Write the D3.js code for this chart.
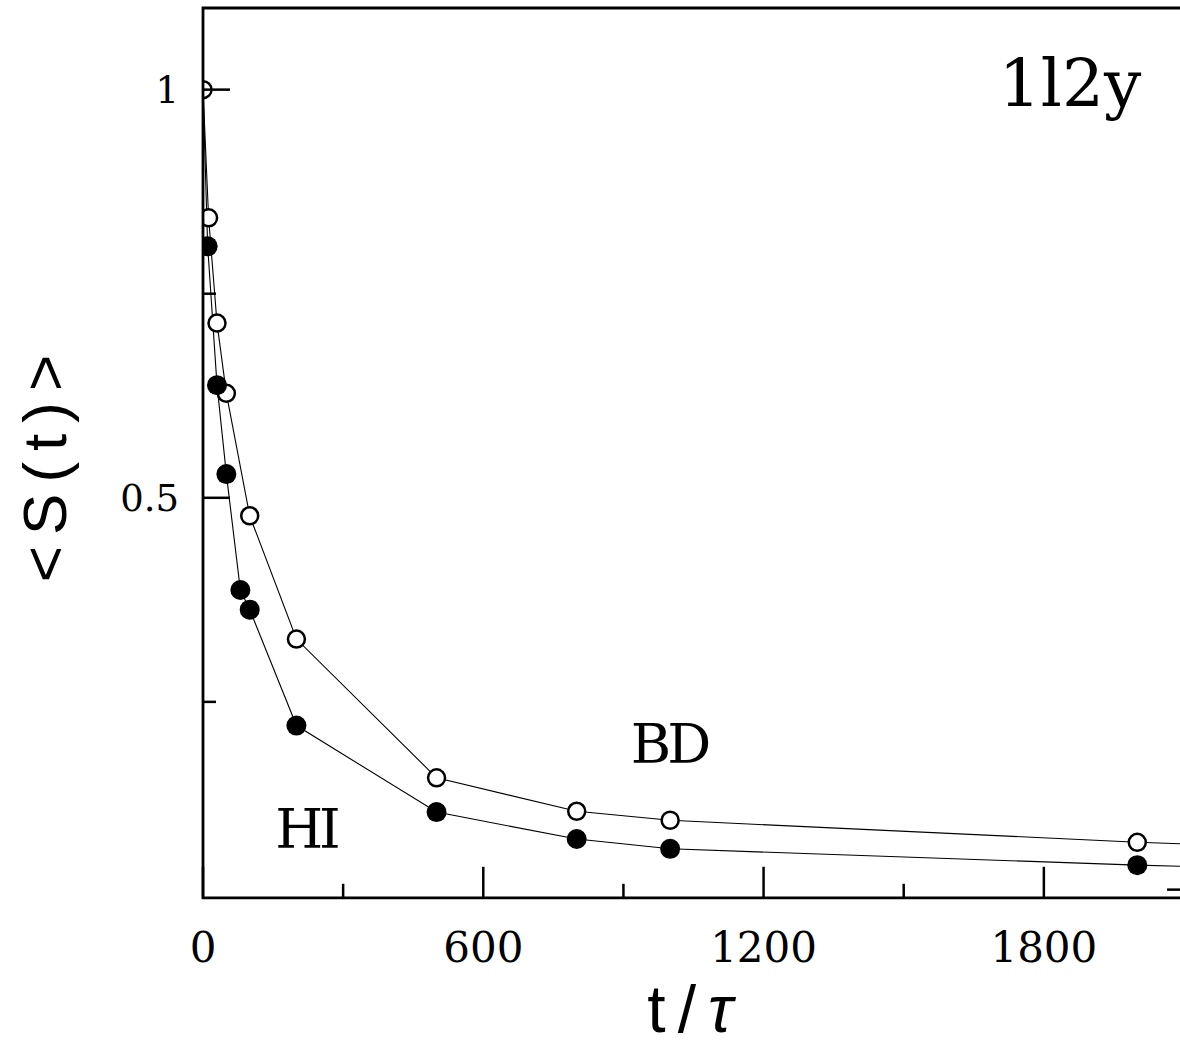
<!DOCTYPE html>
<meta charset="utf-8">
<style>

body {
  margin: 0;
  background: #fff;
}

svg {
  display: block;
  overflow: hidden;
}

.axis-line {
  fill: none;
  stroke: #000;
  stroke-width: 2.8;
}

.tick-mark {
  stroke: #000;
  stroke-width: 2.5;
}

.series {
  fill: none;
  stroke: #000;
  stroke-width: 1.1;
}

.ticklabel {
  font-family: "DejaVu Serif", serif;
  fill: #000;
}

</style>
<body>
<script src="https://d3js.org/d3.v7.min.js"></script>
<script>

// open circles (BD) and filled circles (HI); last points sit past the right edge
var tBD = [0, 12, 30, 50, 100, 200, 500, 800, 1000, 2000, 3000];
var sBD = [1, 0.843, 0.714, 0.628, 0.478, 0.327, 0.157, 0.116, 0.105, 0.078, 0.058];

var tHI = [0, 10, 30, 50, 80, 100, 200, 500, 800, 1000, 2000, 3000];
var sHI = [1, 0.808, 0.638, 0.529, 0.387, 0.363, 0.221, 0.115, 0.082, 0.070, 0.050, 0.035];

var xMajor = [0, 600, 1200, 1800];
var xMinor = [300, 900, 1500];
var yMajor = [1, 0.5];
var yMinor = [0.75, 0.25];
var yRightMinor = [0.02];
var yLabels = ["1", "0.5"];

var width = 1180,
    height = 1053;

var x = d3.scaleLinear().domain([0, 2100]).range([203, 1184]);
var y = d3.scaleLinear().domain([0.01, 1.1]).range([897.8, 8]);

var svg = d3.select("body").append("svg")
    .attr("width", width)
    .attr("height", height);

svg.append("clipPath")
    .attr("id", "plot")
  .append("rect")
    .attr("x", x(0))
    .attr("y", y(1.1))
    .attr("width", x(2100) - x(0))
    .attr("height", y(0.01) - y(1.1));

var bd = tBD.map(function(t, i) { return {t: t, s: sBD[i]}; });
var hi = tHI.map(function(t, i) { return {t: t, s: sHI[i]}; });

var line = d3.line()
    .x(function(d) { return x(d.t); })
    .y(function(d) { return y(d.s); });

var plot = svg.append("g").attr("clip-path", "url(#plot)");

plot.append("path").datum(bd).attr("class", "series").attr("d", line);
plot.append("path").datum(hi).attr("class", "series").attr("d", line);

plot.selectAll(".bd")
    .data(bd)
  .enter().append("circle")
    .attr("class", "bd")
    .attr("cx", function(d) { return x(d.t); })
    .attr("cy", function(d) { return y(d.s); })
    .attr("r", 8.5)
    .style("fill", "#fff")
    .style("stroke", "#000")
    .style("stroke-width", 2.5);

plot.selectAll(".hi")
    .data(hi.filter(function(d) { return d.t > 0; }))
  .enter().append("circle")
    .attr("class", "hi")
    .attr("cx", function(d) { return x(d.t); })
    .attr("cy", function(d) { return y(d.s); })
    .attr("r", 10)
    .style("fill", "#000");

// frame
svg.append("path")
    .attr("class", "axis-line")
    .attr("d", "M" + x(0) + "," + y(0.01) + "V" + y(1.1) + "H" + x(2100) + "V" + y(0.01) + "Z");

// bottom ticks
svg.selectAll(".xmaj")
    .data(xMajor)
  .enter().append("line")
    .attr("class", "tick-mark")
    .attr("x1", x).attr("x2", x)
    .attr("y1", y(0.01)).attr("y2", y(0.01) - 31);

svg.selectAll(".xmin")
    .data(xMinor)
  .enter().append("line")
    .attr("class", "tick-mark")
    .attr("x1", x).attr("x2", x)
    .attr("y1", y(0.01)).attr("y2", y(0.01) - 14);

svg.selectAll(".xlab")
    .data(xMajor)
  .enter().append("text")
    .attr("class", "ticklabel")
    .attr("x", x)
    .attr("y", 962)
    .attr("text-anchor", "middle")
    .style("font-size", "42px")
    .text(function(d) { return d; });

// left ticks
svg.selectAll(".ymaj")
    .data(yMajor)
  .enter().append("line")
    .attr("class", "tick-mark")
    .attr("x1", x(0)).attr("x2", x(0) + 27)
    .attr("y1", y).attr("y2", y);

svg.selectAll(".ymin")
    .data(yMinor)
  .enter().append("line")
    .attr("class", "tick-mark")
    .attr("x1", x(0)).attr("x2", x(0) + 13)
    .attr("y1", y).attr("y2", y);

svg.selectAll(".yrmin")
    .data(yRightMinor)
  .enter().append("line")
    .attr("class", "tick-mark")
    .attr("x1", x(2100)).attr("x2", x(2100) - 17)
    .attr("y1", y).attr("y2", y);

svg.selectAll(".ylab")
    .data(yMajor)
  .enter().append("text")
    .attr("class", "ticklabel")
    .attr("x", 179)
    .attr("y", function(d) { return y(d) + 13; })
    .attr("text-anchor", "end")
    .style("font-size", "37px")
    .text(function(d, i) { return yLabels[i]; });

// axis titles
svg.append("text")
    .attr("transform", "translate(66,463) rotate(-90)")
    .attr("text-anchor", "middle")
    .style("font-family", "'Liberation Sans', sans-serif")
    .style("font-size", "62px")
    .style("letter-spacing", "11px")
    .text("<S(t)>");

var xt = svg.append("text")
    .attr("x", 696)
    .attr("y", 1032)
    .attr("text-anchor", "middle")
    .style("font-family", "'Liberation Sans', sans-serif")
    .style("font-size", "66px")
    .style("letter-spacing", "12px");
xt.append("tspan").text("t/");
xt.append("tspan").style("font-style", "italic").text("τ");

// curve labels and panel name
svg.append("text")
    .attr("x", 1070).attr("y", 106)
    .attr("text-anchor", "middle")
    .style("font-family", "'DejaVu Serif', serif")
    .style("font-size", "66px")
    .text("1l2y");

svg.append("text")
    .attr("x", 669).attr("y", 763)
    .attr("text-anchor", "middle")
    .style("font-family", "'DejaVu Serif', serif")
    .style("font-size", "55px")
    .style("letter-spacing", "-4px")
    .text("BD");

svg.append("text")
    .attr("x", 306).attr("y", 848)
    .attr("text-anchor", "middle")
    .style("font-family", "'DejaVu Serif', serif")
    .style("font-size", "55px")
    .style("letter-spacing", "-4px")
    .text("HI");

</script>
</body>
